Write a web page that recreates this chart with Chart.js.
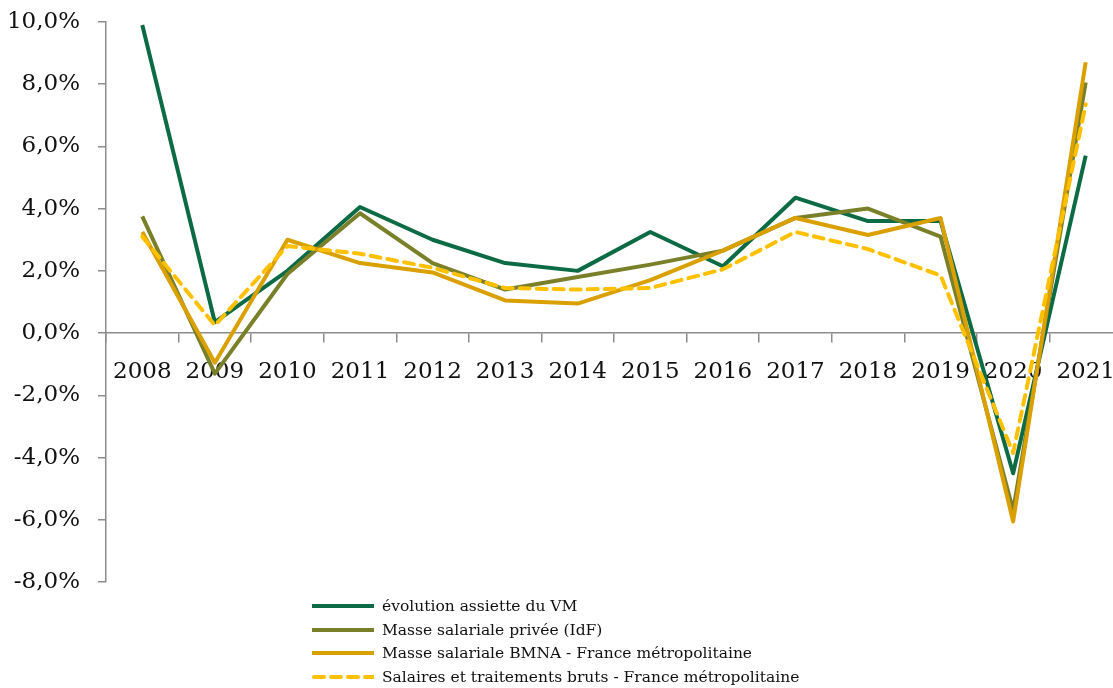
<!DOCTYPE html>
<html>
<head>
<meta charset="utf-8">
<script src="https://cdn.jsdelivr.net/npm/chart.js@4.4.0/dist/chart.umd.min.js"></script>
<style>
  html, body { margin:0; padding:0; background:#fff; overflow:hidden; width:1113px; height:688px; }
  #wrap { position:absolute; left:0; top:-10px; width:1131px; height:624px; }
  #legend { position:absolute; left:312px; top:594px; font-family:"DejaVu Serif", serif; font-size:15.5px; color:#111; }
  .lg-row { height:23.7px; display:flex; align-items:center; white-space:nowrap; }
  .lg-row svg { margin-right:8px; }
</style>
</head>
<body>
<div id="wrap"><canvas id="chart" width="1131" height="624"></canvas></div>
<div id="legend"></div>
<script>
// data (percent)
const years = ['2008','2009','2010','2011','2012','2013','2014','2015','2016','2017','2018','2019','2020','2021'];
const assietteVM  = [9.9, 0.35, 2.0, 4.05, 3.0, 2.25, 2.0, 3.25, 2.15, 4.35, 3.6, 3.6, -4.5, 5.7];
const massePrivee = [3.75, -1.3, 1.9, 3.85, 2.25, 1.4, 1.8, 2.2, 2.65, 3.7, 4.0, 3.1, -5.7, 8.05];
const masseBMNA   = [3.25, -0.95, 3.0, 2.25, 1.95, 1.05, 0.95, 1.7, 2.65, 3.7, 3.15, 3.7, -6.05, 8.7];
const salairesBruts = [3.1, 0.25, 2.8, 2.55, 2.1, 1.45, 1.4, 1.45, 2.05, 3.25, 2.7, 1.85, -3.85, 7.35];

const yMin = -8, yMax = 10, yStep = 2;

const series = [
    { label: 'évolution assiette du VM', data: assietteVM, color: '#0c6b45', dash: [] },
    { label: 'Masse salariale privée (IdF)', data: massePrivee, color: '#7a8029', dash: [] },
    { label: 'Masse salariale BMNA - France métropolitaine', data: masseBMNA, color: '#daa000', dash: [] },
    { label: 'Salaires et traitements bruts - France métropolitaine', data: salairesBruts, color: '#ffc000', dash: [10, 7] }
];

const axisGrey = '#8c8c8c';
const fmt = v => v.toFixed(1).replace('.', ',') + '%';

const chart = new Chart(document.getElementById('chart'), {
    type: 'line',
    data: {
        labels: years,
        datasets: series.map((s, i) => ({
            label: s.label,
            data: s.data,
            borderColor: s.color,
            backgroundColor: s.color,
            borderWidth: 4,
            borderDash: s.dash,
            borderCapStyle: s.dash.length ? 'round' : 'butt',
            borderJoinStyle: 'round',
            pointRadius: 0,
            tension: 0,
            fill: false,
            order: series.length - i   // later series drawn on top, like the original
        }))
    },
    options: {
        responsive: false,
        animation: false,
        layout: { padding: { top: 10, right: 1, bottom: 4, left: 0 } },
        plugins: { legend: { display: false }, tooltip: { enabled: false } },
        scales: {
            x: {
                type: 'category',
                offset: true,
                position: { y: 0 },
                border: { display: true, color: axisGrey, width: 1.5 },
                grid: { display: true, drawOnChartArea: false, drawTicks: true, tickLength: 9, offset: true, color: axisGrey, lineWidth: 1.5 },
                ticks: { color: '#111', padding: 16, maxRotation: 0, autoSkip: false, font: { family: 'DejaVu Serif', size: 23 } }
            },
            y: {
                min: yMin,
                max: yMax,
                border: { display: true, color: axisGrey, width: 1.5 },
                grid: { display: true, drawOnChartArea: false, drawTicks: true, tickLength: 8, color: axisGrey, lineWidth: 1.5 },
                ticks: { stepSize: yStep, padding: 18, color: '#111', callback: v => fmt(v), font: { family: 'DejaVu Serif', size: 23 } },
                afterFit: sc => { sc.width = 106; }
            }
        }
    }
});

// legend, vertical list under the plot
const lg = document.getElementById('legend');
series.forEach(s => {
    const row = document.createElement('div');
    row.className = 'lg-row';
    const dashAttr = s.dash.length ? `stroke-dasharray="${s.dash.join(',')}" stroke-linecap="round"` : '';
    row.innerHTML = `<svg width="62" height="8"><line x1="${s.dash.length ? 2 : 0}" y1="4" x2="62" y2="4" stroke="${s.color}" stroke-width="4" ${dashAttr}/></svg><span>${s.label}</span>`;
    lg.appendChild(row);
});
</script>
</body>
</html>
